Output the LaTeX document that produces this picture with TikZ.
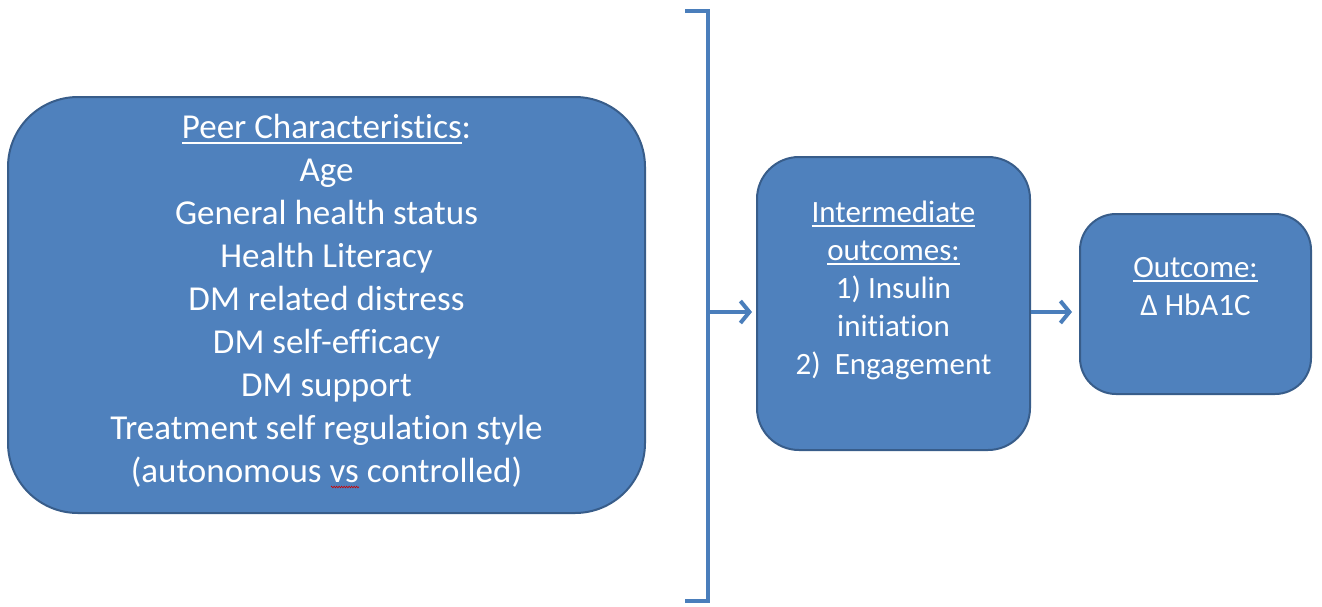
\documentclass[tikz,border=0pt]{standalone}
\usepackage{fontspec}
\setmainfont{Carlito}[Ligatures=NoCommon]
\usetikzlibrary{arrows.meta,decorations.pathmorphing}
\definecolor{boxfill}{HTML}{4F81BD}
\definecolor{boxline}{HTML}{385D8A}
\definecolor{conn}{HTML}{4A7EBB}
\newcommand\ulx[1]{\leavevmode\setbox0\hbox{#1}\rlap{\color{white}\rule[-5pt]{\wd0}{1.8pt}}\box0}
\tikzset{
  box/.style={draw=boxline, line width=2pt, fill=boxfill, text=white, align=center, inner sep=0pt},
  conn/.style={draw=conn, line width=4pt},
  arr/.style={conn, -{Straight Barb[length=9pt,width=22pt,line width=4pt]}}
}
\begin{document}
\begin{tikzpicture}[x=1pt,y=-1pt]
\useasboundingbox (0,0) rectangle (1322,606);
\node[box, minimum width=637pt, minimum height=416pt, rounded corners=70pt,
      font=\fontsize{35}{43}\selectfont] (b1) at (326.5,305)
  {\ulx{Peer Characteristics}:\\ Age\\ General health status\\ Health Literacy\\ DM related distress\\ DM self-efficacy\\ DM support\\ Treatment self regulation style\\ (autonomous vs controlled)\rule[-13pt]{0pt}{1pt}};
\node[box, minimum width=273pt, minimum height=293pt, rounded corners=42pt,
      font=\fontsize{31}{38}\selectfont] (b2) at (893.5,303.5)
  {\ulx{Intermediate}\\ \ulx{outcomes:}\\ 1) Insulin\\ initiation\\ 2)~~Engagement\rule[-32pt]{0pt}{1pt}};
\node[box, minimum width=231pt, minimum height=180pt, rounded corners=36pt,
      font=\fontsize{31}{38}\selectfont] (b3) at (1195.5,304)
  {\ulx{Outcome:}\\ Δ HbA1C\rule[-36pt]{0pt}{1pt}};
% bracket
\coordinate (bt) at (708,11);
\coordinate (bb) at (708,601);
\coordinate (ay) at (0,312);
\draw[conn] (685,11) -- (bt) -- (bb) -- (685,601);
\draw[arr, shorten >=4pt] (bt |- ay) -- (b2.west |- ay);
\draw[arr, shorten >=7pt] (b2.east |- ay) -- (b3.west |- ay);
% spell-check squiggle under "vs"
\draw[red!80!black, line width=0.6pt, decorate, decoration={zigzag, amplitude=0.8pt, segment length=2.5pt}] (331,487) -- (359,487);
\end{tikzpicture}
\end{document}
